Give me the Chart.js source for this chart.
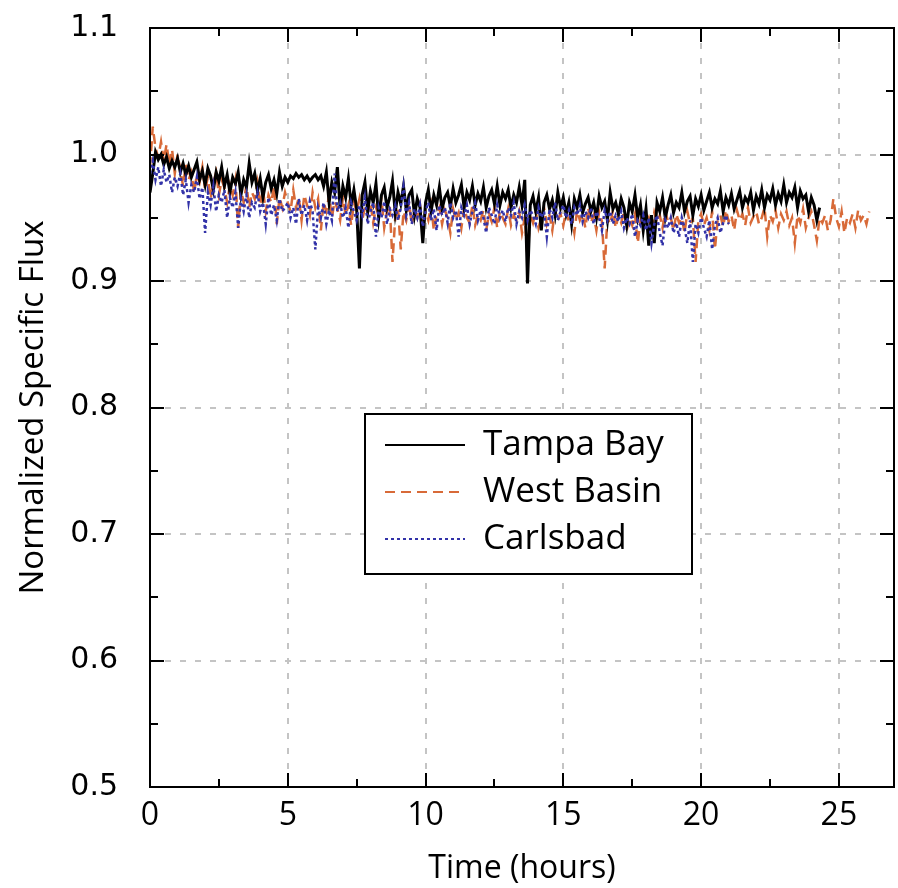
<!DOCTYPE html>
<html>
<head>
<meta charset="utf-8">
<script src="https://cdn.jsdelivr.net/npm/chart.js@4.4.0/dist/chart.umd.min.js"></script>
<style>
  html, body { margin: 0; padding: 0; background: #fff; }
  #wrap { width: 898px; height: 888px; }
</style>
</head>
<body>
<div id="wrap"><canvas id="fluxChart" width="898" height="888"></canvas></div>
<script>
// Data: one reading every 0.1 h, normalized specific flux
const sampleStep = 0.1;

const tampaBay = [
    0.970, 0.985, 1.002, 0.996, 1.000, 0.992, 0.998, 0.989, 0.995, 0.990,
    0.997, 0.986, 0.993, 0.984, 0.991, 0.982, 0.988, 0.994, 0.980, 0.987,
    0.976, 0.989, 0.983, 0.972, 0.986, 0.979, 0.990, 0.975, 0.984, 0.970,
    0.982, 0.977, 0.986, 0.968, 0.980, 0.974, 0.993, 0.978, 0.985, 0.971,
    0.981, 0.966, 0.978, 0.984, 0.973, 0.980, 0.969, 0.986, 0.975, 0.982,
    0.978, 0.983, 0.981, 0.985, 0.982, 0.984, 0.980, 0.983, 0.979, 0.982,
    0.984, 0.980, 0.983, 0.975, 0.986, 0.962, 0.978, 0.970, 0.990, 0.958,
    0.975, 0.966, 0.981, 0.960, 0.972, 0.957, 0.910, 0.968, 0.978, 0.955,
    0.971, 0.962, 0.977, 0.950, 0.968, 0.974, 0.958, 0.966, 0.979, 0.954,
    0.970, 0.961, 0.975, 0.956, 0.968, 0.972, 0.952, 0.965, 0.958, 0.930,
    0.962, 0.972, 0.955, 0.968, 0.960, 0.974, 0.957, 0.966, 0.970, 0.959,
    0.973, 0.962, 0.968, 0.976, 0.958, 0.970, 0.964, 0.975, 0.960, 0.969,
    0.963, 0.974, 0.958, 0.967, 0.972, 0.961, 0.975, 0.960, 0.970, 0.965,
    0.972, 0.958, 0.968, 0.962, 0.974, 0.960, 0.980, 0.898, 0.960, 0.967,
    0.955, 0.966, 0.940, 0.962, 0.968, 0.957, 0.964, 0.952, 0.970, 0.958,
    0.966, 0.953, 0.962, 0.945, 0.965, 0.958, 0.968, 0.954, 0.961, 0.966,
    0.955, 0.962, 0.950, 0.967, 0.958, 0.963, 0.948, 0.970, 0.957, 0.962,
    0.953, 0.965, 0.958, 0.944, 0.962, 0.955, 0.968, 0.950, 0.960, 0.940,
    0.957, 0.928, 0.952, 0.930, 0.962, 0.955, 0.966, 0.950, 0.960, 0.968,
    0.954, 0.962, 0.958, 0.970, 0.955, 0.963, 0.967, 0.952, 0.965, 0.959,
    0.968, 0.956, 0.963, 0.970, 0.958, 0.965, 0.961, 0.971, 0.955, 0.966,
    0.960, 0.969, 0.957, 0.964, 0.971, 0.958, 0.966, 0.962, 0.970, 0.956,
    0.967, 0.961, 0.972, 0.958, 0.968, 0.964, 0.973, 0.960, 0.969, 0.963,
    0.976, 0.962, 0.970, 0.966, 0.974, 0.958, 0.971, 0.965, 0.968, 0.955,
    0.966, 0.960, 0.948, 0.958
];

const westBasin = [
    0.990, 1.022, 1.005, 0.998, 1.010, 0.995, 1.008, 0.992, 1.004, 0.985,
    1.000, 0.988, 0.975, 0.992, 0.980, 0.986, 0.970, 0.984, 0.978, 0.990,
    0.972, 0.982, 0.965, 0.978, 0.986, 0.968, 0.980, 0.974, 0.962, 0.976,
    0.968, 0.980, 0.942, 0.972, 0.962, 0.976, 0.958, 0.970, 0.965, 0.978,
    0.960, 0.972, 0.955, 0.968, 0.962, 0.975, 0.945, 0.966, 0.958, 0.970,
    0.962, 0.955, 0.972, 0.958, 0.966, 0.948, 0.968, 0.960, 0.952, 0.970,
    0.958, 0.965, 0.940, 0.962, 0.955, 0.968, 0.950, 0.963, 0.957, 0.948,
    0.966, 0.952, 0.960, 0.944, 0.962, 0.955, 0.965, 0.948, 0.958, 0.953,
    0.962, 0.946, 0.958, 0.952, 0.965, 0.942, 0.955, 0.960, 0.915, 0.950,
    0.958, 0.925, 0.955, 0.948, 0.962, 0.945, 0.956, 0.950, 0.960, 0.942,
    0.955, 0.948, 0.960, 0.940, 0.953, 0.958, 0.945, 0.956, 0.950, 0.938,
    0.957, 0.948, 0.954, 0.942, 0.958, 0.950, 0.946, 0.960, 0.944, 0.952,
    0.948, 0.956, 0.940, 0.953, 0.947, 0.958, 0.942, 0.955, 0.950, 0.945,
    0.957, 0.944, 0.952, 0.948, 0.955, 0.938, 0.950, 0.918, 0.953, 0.946,
    0.955, 0.942, 0.950, 0.958, 0.945, 0.952, 0.940, 0.956, 0.948, 0.953,
    0.944, 0.955, 0.947, 0.952, 0.938, 0.956, 0.948, 0.953, 0.942, 0.958,
    0.946, 0.952, 0.940, 0.955, 0.947, 0.910, 0.950, 0.945, 0.956, 0.942,
    0.952, 0.946, 0.955, 0.940, 0.950, 0.944, 0.953, 0.930, 0.948, 0.955,
    0.945, 0.950, 0.940, 0.954, 0.946, 0.952, 0.942, 0.955, 0.947, 0.950,
    0.940, 0.953, 0.946, 0.950, 0.938, 0.955, 0.945, 0.950, 0.915, 0.948,
    0.953, 0.944, 0.950, 0.940, 0.955, 0.925, 0.948, 0.952, 0.943, 0.956,
    0.947, 0.952, 0.940, 0.956, 0.948, 0.953, 0.944, 0.958, 0.946, 0.951,
    0.955, 0.945, 0.950, 0.958, 0.935, 0.952, 0.947, 0.956, 0.942, 0.953,
    0.948, 0.955, 0.944, 0.950, 0.930, 0.952, 0.946, 0.957, 0.942, 0.950,
    0.955, 0.944, 0.932, 0.950, 0.946, 0.952, 0.940, 0.948, 0.965, 0.950,
    0.943, 0.955, 0.938, 0.950, 0.946, 0.953, 0.942, 0.956, 0.948, 0.952,
    0.945, 0.955
];

const carlsbad = [
    0.985, 0.995, 0.980, 0.990, 0.975, 0.988, 0.978, 0.984, 0.970, 0.982,
    0.975, 0.985, 0.968, 0.980, 0.962, 0.976, 0.970, 0.982, 0.965, 0.974,
    0.938, 0.970, 0.960, 0.975, 0.955, 0.968, 0.962, 0.972, 0.950, 0.966,
    0.958, 0.970, 0.942, 0.965, 0.955, 0.968, 0.950, 0.962, 0.958, 0.970,
    0.955, 0.962, 0.945, 0.966, 0.952, 0.960, 0.948, 0.965, 0.955, 0.958,
    0.962, 0.950, 0.958, 0.945, 0.965, 0.952, 0.960, 0.948, 0.963, 0.955,
    0.925, 0.958, 0.950, 0.962, 0.945, 0.956, 0.948, 0.985, 0.955, 0.962,
    0.950, 0.958, 0.942, 0.962, 0.955, 0.948, 0.960, 0.952, 0.966, 0.945,
    0.955, 0.962, 0.935, 0.958, 0.950, 0.963, 0.945, 0.957, 0.952, 0.960,
    0.948, 0.958, 0.975, 0.952, 0.962, 0.945, 0.957, 0.950, 0.960, 0.943,
    0.955, 0.962, 0.948, 0.957, 0.940, 0.960, 0.952, 0.958, 0.946, 0.962,
    0.950, 0.956, 0.935, 0.958, 0.952, 0.960, 0.945, 0.955, 0.962, 0.948,
    0.956, 0.950, 0.938, 0.958, 0.952, 0.945, 0.960, 0.950, 0.956, 0.947,
    0.958, 0.952, 0.962, 0.945, 0.955, 0.950, 0.960, 0.948, 0.956, 0.952,
    0.945, 0.958, 0.950, 0.955, 0.935, 0.957, 0.950, 0.962, 0.948, 0.955,
    0.960, 0.950, 0.956, 0.945, 0.958, 0.952, 0.960, 0.947, 0.955, 0.950,
    0.958, 0.945, 0.955, 0.950, 0.940, 0.956, 0.948, 0.955, 0.945, 0.952,
    0.947, 0.955, 0.942, 0.950, 0.945, 0.953, 0.935, 0.948, 0.944, 0.952,
    0.940, 0.950, 0.930, 0.945, 0.952, 0.938, 0.928, 0.948, 0.942, 0.950,
    0.938, 0.946, 0.935, 0.950, 0.942, 0.930, 0.948, 0.915, 0.945, 0.938,
    0.950, 0.942, 0.935, 0.948, 0.925, 0.944, 0.950, 0.938, 0.946, 0.952,
    0.945
];

// Axis ticks
const xMajorTicks = [0, 5, 10, 15, 20, 25];
const xMinorTicks = [2.5, 7.5, 12.5, 17.5, 22.5];
const yMajorTicks = [0.5, 0.6, 0.7, 0.8, 0.9, 1.0, 1.1];
const yMinorTicks = [0.55, 0.65, 0.75, 0.85, 0.95, 1.05];

const toPoints = (values) => values.map((v, i) => ({ x: i * sampleStep, y: v }));

// Grid, boxed frame with inward ticks, and the boxed legend
const framePlugin = {
    id: 'frame',
    beforeDatasetsDraw(chart) {
        const { ctx, chartArea: a, scales: { x, y } } = chart;
        ctx.save();
        ctx.strokeStyle = '#c4c4c4';
        ctx.lineWidth = 2;
        ctx.setLineDash([6, 9]);
        xMajorTicks.slice(1).forEach(t => {
            const px = Math.round(x.getPixelForValue(t));
            ctx.beginPath();
            ctx.moveTo(px, a.top);
            ctx.lineTo(px, a.bottom);
            ctx.stroke();
        });
        yMajorTicks.slice(1, -1).forEach(t => {
            const py = Math.round(y.getPixelForValue(t));
            ctx.beginPath();
            ctx.moveTo(a.left, py);
            ctx.lineTo(a.right, py);
            ctx.stroke();
        });
        ctx.restore();
    },
    afterDatasetsDraw(chart) {
        const { ctx, chartArea: a, scales: { x, y } } = chart;
        ctx.save();
        ctx.strokeStyle = '#000';
        ctx.lineWidth = 2;
        ctx.setLineDash([]);
        ctx.strokeRect(a.left, a.top, a.right - a.left, a.bottom - a.top);

        const xTick = (t, len) => {
            const px = Math.round(x.getPixelForValue(t));
            ctx.beginPath();
            ctx.moveTo(px, a.bottom); ctx.lineTo(px, a.bottom - len);
            ctx.moveTo(px, a.top); ctx.lineTo(px, a.top + len);
            ctx.stroke();
        };
        const yTick = (t, len) => {
            const py = Math.round(y.getPixelForValue(t));
            ctx.beginPath();
            ctx.moveTo(a.left, py); ctx.lineTo(a.left + len, py);
            ctx.moveTo(a.right, py); ctx.lineTo(a.right - len, py);
            ctx.stroke();
        };
        xMajorTicks.forEach(t => xTick(t, 14));
        xMinorTicks.forEach(t => xTick(t, 8));
        yMajorTicks.forEach(t => yTick(t, 14));
        yMinorTicks.forEach(t => yTick(t, 8));

        // legend box
        const bx = a.left + 215, by = a.top + 386, bw = 327, bh = 160;
        ctx.fillStyle = '#fff';
        ctx.fillRect(bx, by, bw, bh);
        ctx.strokeRect(bx, by, bw, bh);
        ctx.font = '35px "Open Sans", sans-serif';
        ctx.textBaseline = 'middle';
        chart.data.datasets.forEach((ds, i) => {
            const ry = by + 31 + i * 47;
            ctx.strokeStyle = ds.borderColor;
            ctx.lineWidth = 2;
            ctx.setLineDash(ds.borderDash || []);
            ctx.beginPath();
            ctx.moveTo(bx + 20, ry);
            ctx.lineTo(bx + 100, ry);
            ctx.stroke();
            ctx.fillStyle = '#000';
            ctx.fillText(ds.label, bx + 118, ry);
        });
        ctx.restore();
    }
};

const ctx = document.getElementById('fluxChart').getContext('2d');
new Chart(ctx, {
    type: 'line',
    data: {
        datasets: [{
            label: 'Tampa Bay',
            data: toPoints(tampaBay),
            borderColor: '#000000',
            borderWidth: 3,
            order: 2
        }, {
            label: 'West Basin',
            data: toPoints(westBasin),
            borderColor: '#d86a38',
            borderWidth: 2.5,
            borderDash: [10, 6],
            order: 3
        }, {
            label: 'Carlsbad',
            data: toPoints(carlsbad),
            borderColor: '#3232a8',
            borderWidth: 2.5,
            borderDash: [3, 3],
            order: 1
        }]
    },
    options: {
        responsive: false,
        animation: false,
        devicePixelRatio: 1,
        layout: { padding: { left: 0, top: 0, right: 4, bottom: 0 } },
        elements: {
            point: { radius: 0 },
            line: { tension: 0 }
        },
        plugins: {
            legend: { display: false },
            tooltip: { enabled: false }
        },
        scales: {
            x: {
                type: 'linear',
                min: 0,
                max: 27,
                grid: { display: false, drawTicks: false },
                border: { display: false },
                afterFit: (scale) => { scale.height = 101; },
                ticks: {
                    stepSize: 5,
                    includeBounds: false,
                    padding: 10,
                    color: '#000',
                    font: { family: '"Open Sans", sans-serif', size: 32 }
                },
                title: {
                    display: true,
                    text: 'Time (hours)',
                    color: '#000',
                    padding: { top: 0, bottom: 0 },
                    font: { family: '"Open Sans", sans-serif', size: 32 }
                }
            },
            y: {
                min: 0.5,
                max: 1.1,
                grid: { display: false, drawTicks: false },
                border: { display: false },
                afterFit: (scale) => {
                    scale.width = 150;
                    scale.paddingTop = 28;
                    scale.paddingBottom = 0;
                },
                ticks: {
                    stepSize: 0.1,
                    padding: 32,
                    color: '#000',
                    callback: (v) => v.toFixed(1),
                    font: { family: '"DejaVu Sans", sans-serif', size: 30 }
                },
                title: {
                    display: true,
                    text: 'Normalized Specific Flux',
                    color: '#000',
                    padding: { top: 14, bottom: 0 },
                    font: { family: '"Open Sans", sans-serif', size: 33 }
                }
            }
        }
    },
    plugins: [framePlugin]
});
</script>
</body>
</html>
